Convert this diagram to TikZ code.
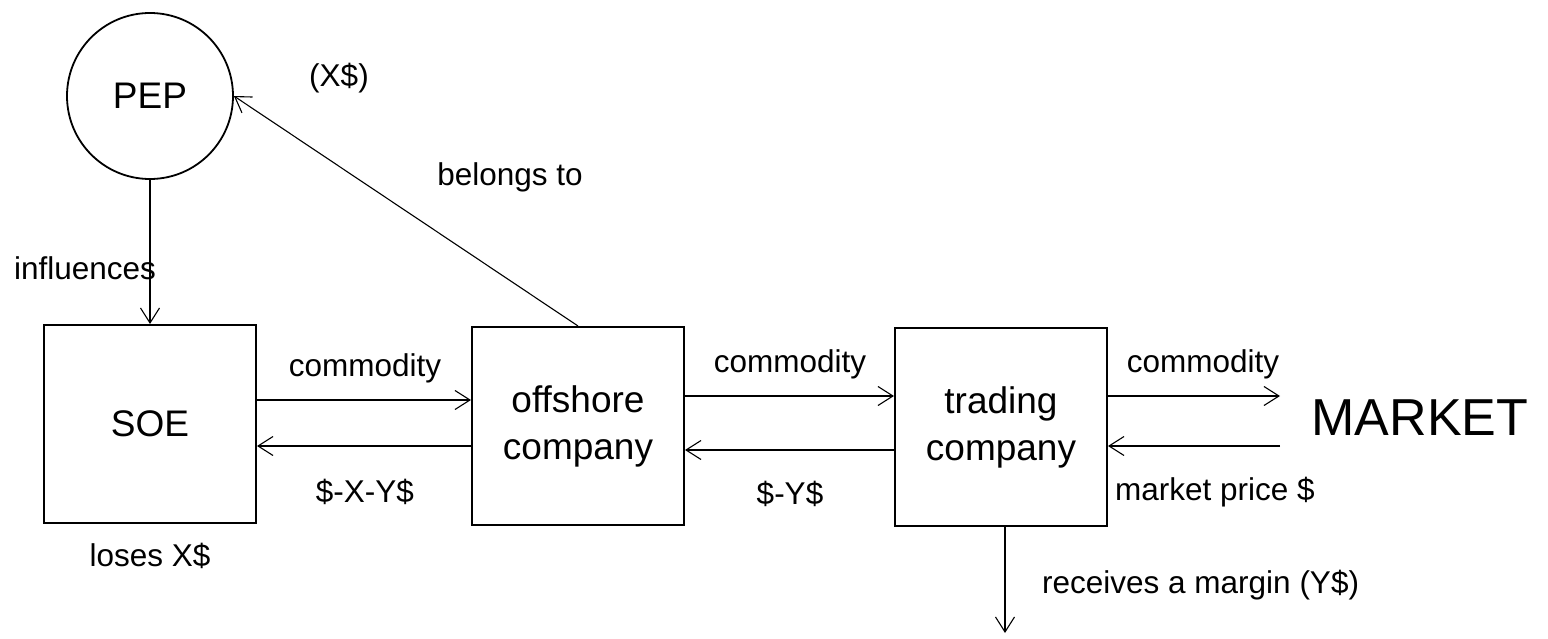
\documentclass[tikz,border=0pt]{standalone}
\usepackage{fontspec}
\setmainfont{Liberation Sans}
\usetikzlibrary{arrows.meta}
\begin{document}
\begin{tikzpicture}[x=1pt,y=-1pt,
  box/.style={draw,line width=2pt,minimum width=212pt,minimum height=198pt,
    align=center,inner sep=0pt,font=\fontsize{37}{47}\selectfont},
  flow/.style={line width=1.1pt,-{Straight Barb[length=15pt,width=19pt,line width=1.1pt]}},
  lbl/.style={inner sep=0pt,font=\fontsize{31.5}{38}\selectfont}]
\useasboundingbox (0,0) rectangle (1548,639);

% actors
\node[draw,circle,line width=1.8pt,minimum size=166pt,inner sep=0pt,
  font=\fontsize{37}{44}\selectfont] (pep) at (150,96) {PEP};
\node[box] (soe) at (150,424) {SOE};
\node[box] (off) at (578,426) {offshore\\company};
\node[box] (trd) at (1001,427) {trading\\company};
\node[inner sep=0pt,font=\fontsize{52}{60}\selectfont] (mkt) at (1420,418) {MARKET};

% free ends on the market side and below the trader
\coordinate (mktin) at (1280,396);
\coordinate (mktout) at (1280,446);
\coordinate (margin) at (1005,633);

% control and ownership
\draw[flow] (pep.south) -- (soe.north);
\node[lbl] at (85,268) {influences};
\draw[flow] (off.north) -- (pep.east);
\node[lbl] at (510,177) {belongs to};
\node[lbl] at (339,78) {(X\$)};

% goods and money between the companies
\draw[flow] (soe.east |- 0,400) -- (off.west |- 0,400);
\node[lbl] at (365,368) {commodity};
\draw[flow] (off.west |- 0,446) -- (soe.east |- 0,446);
\node[lbl] at (365,492) {\$-X-Y\$};
\draw[flow] (off.east |- 0,396) -- (trd.west |- 0,396);
\node[lbl] at (790,364) {commodity};
\draw[flow] (trd.west |- 0,450) -- (off.east |- 0,450);
\node[lbl] at (790,494) {\$-Y\$};
\draw[flow] (trd.east |- mktin) -- (mktin);
\node[lbl] at (1203,364) {commodity};
\draw[flow] (mktout) -- (trd.east |- mktout);
\node[lbl] at (1215,492) {market price \$};
\draw[flow] (trd.south -| margin) -- (margin);
\node[lbl,anchor=west] at (1042,585) {receives a margin (Y\$)};

\node[lbl] at (150,556) {loses X\$};
\end{tikzpicture}
\end{document}
